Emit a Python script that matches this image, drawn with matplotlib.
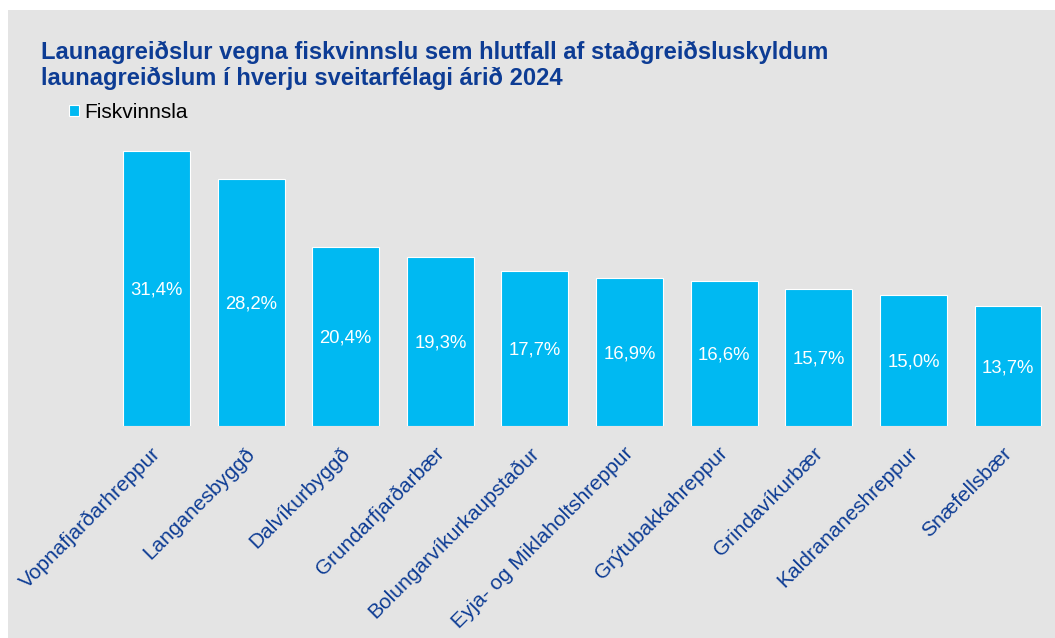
import matplotlib.pyplot as plt
from matplotlib.patches import Rectangle
from matplotlib.transforms import ScaledTranslation

plt.rcParams['font.family'] = ['Liberation Sans', 'DejaVu Sans']

sveitarfelog = ['Vopnafjarðarhreppur', 'Langanesbyggð', 'Dalvíkurbyggð', 'Grundarfjarðarbær',
                'Bolungarvíkurkaupstaður', 'Eyja- og Miklaholtshreppur', 'Grýtubakkahreppur',
                'Grindavíkurbær', 'Kaldrananeshreppur', 'Snæfellsbær']
hlutfall = [31.4, 28.2, 20.4, 19.3, 17.7, 16.9, 16.6, 15.7, 15.0, 13.7]

blar = '#00b9f2'
dokkblar = '#0d3c94'
grar = '#e4e4e4'

fig = plt.figure(figsize=(10.55, 6.38), dpi=100)
fig.patches.append(Rectangle((8 / 1055, 0), 1, 1 - 10 / 638, transform=fig.transFigure,
                             facecolor=grar, edgecolor='none', zorder=-10))

ax = fig.add_axes([109.2 / 1055, 212 / 638, 946.1 / 1055, 289 / 638])
ax.set_zorder(5)
ax.set_facecolor('none')
x = range(len(hlutfall))
bars = ax.bar(x, hlutfall, width=0.708, color=blar, edgecolor='white', linewidth=0.8,
              label='Fiskvinnsla')
for b, v in zip(bars, hlutfall):
    ax.text(b.get_x() + b.get_width() / 2, v / 2 - 0.2, f'{v:.1f}%'.replace('.', ','),
            ha='center', va='center', color='white', fontsize=13.3)

ax.set_xlim(-0.5, 9.5)
ax.set_ylim(0, 33)
ax.set_yticks([])
ax.set_xticks(list(x))
ax.set_xticklabels(sveitarfelog, rotation=45, ha='right', va='top', rotation_mode='anchor',
                   color=dokkblar, fontsize=15)
ax.tick_params(axis='x', length=0, pad=12)
# hliðra merkjunum aðeins til vinstri
offset = ScaledTranslation(-6 / 100, -1 / 100, fig.dpi_scale_trans)
for lbl in ax.get_xticklabels():
    lbl.set_transform(lbl.get_transform() + offset)
for s in ax.spines.values():
    s.set_visible(False)

fig.text(41 / 1055, 1 - 85 / 638, 'Launagreiðslur vegna fiskvinnslu sem hlutfall af staðgreiðsluskyldum\n'
         'launagreiðslum í hverju sveitarfélagi árið 2024',
         ha='left', va='baseline', color=dokkblar, fontsize=17.1, fontweight='bold',
         linespacing=1.18, zorder=10)
fig.legend(handles=[bars], labels=['Fiskvinnsla'], loc='upper left',
           bbox_to_anchor=(50 / 1055, 1 - 84 / 638), frameon=False, fontsize=15,
           handlelength=0.48, handleheight=0.48, handletextpad=0.25)

fig.savefig('out.png', dpi=100)
